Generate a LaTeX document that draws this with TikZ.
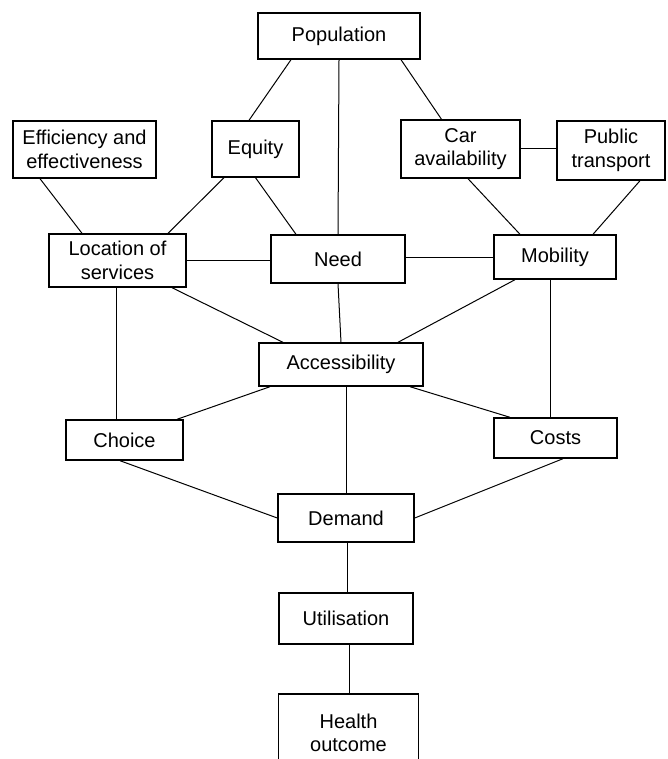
\documentclass[tikz,border=0pt]{standalone}
\usepackage{fontspec}
\setmainfont{Liberation Sans}
\begin{document}
\begin{tikzpicture}[x=1pt, y=-1pt,
  box/.style={draw, line width=1.4pt, inner sep=0pt, align=center, font=\fontsize{20}{23.5}\selectfont},
  link/.style={line width=1pt}]
\useasboundingbox (0,0) rectangle (667,759);
\clip (0,0) rectangle (667,759);

% Top rows
\node[box, minimum width=162pt, minimum height=46pt] (pop) at (339,36) {Population};
\node[box, minimum width=143pt, minimum height=57pt] (eff) at (84.5,149.5) {Efficiency and\\effectiveness};
\node[box, minimum width=87pt, minimum height=56pt] (equ) at (255.5,149) {Equity};
\node[box, minimum width=119pt, minimum height=58pt] (car) at (460.5,149) {Car\\availability};
\node[box, minimum width=108pt, minimum height=59pt] (pub) at (611,150.5) {Public\\transport};

% Middle rows
\node[box, minimum width=137pt, minimum height=53pt] (loc) at (117.5,260.5) {Location of\\services};
\node[box, minimum width=134pt, minimum height=48pt] (need) at (338,259) {Need};
\node[box, minimum width=122pt, minimum height=44pt] (mob) at (555,257) {Mobility};
\node[box, minimum width=164pt, minimum height=43pt] (acc) at (341,364.5) {Accessibility};
\node[box, minimum width=117pt, minimum height=40pt] (cho) at (124.5,440) {Choice};
\node[box, minimum width=123pt, minimum height=40pt] (cos) at (555.5,438) {Costs};

% Bottom column
\node[box, minimum width=136pt, minimum height=48pt] (dem) at (346,518) {Demand};
\node[box, minimum width=134pt, minimum height=51pt] (uti) at (346,618.5) {Utilisation};
\node[box, minimum width=140pt, minimum height=78pt] (hea) at (348.5,733) {Health\\outcome};

% Links
\draw[link] ([xshift=-48pt]pop.south) -- ([xshift=-6.5pt]equ.north);
\draw[link] (pop.south) -- (need.north);
\draw[link] ([xshift=62pt]pop.south) -- ([xshift=-19pt]car.north);
\draw[link] ([xshift=-44.5pt]eff.south) -- ([xshift=-35.5pt]loc.north);
\draw[link] ([xshift=-31.5pt]equ.south) -- ([xshift=50.5pt]loc.north);
\draw[link] (equ.south) -- ([xshift=-42pt]need.north);
\draw[link] (car.east) -- (car.east -| pub.west);
\draw[link] ([xshift=7.5pt]car.south) -- ([xshift=-35pt]mob.north);
\draw[link] ([xshift=29pt]pub.south) -- ([xshift=38pt]mob.north);
\draw[link] (loc.east) -- (loc.east -| need.west);
\draw[link] (mob.west -| need.east) -- (mob.west);
\draw[link] ([xshift=54.5pt]loc.south) -- ([xshift=-58pt]acc.north);
\draw[link] (need.south) -- (acc.north);
\draw[link] ([xshift=-40pt]mob.south) -- ([xshift=57pt]acc.north);
\draw[link] ([xshift=-1.5pt]loc.south) -- ([xshift=-1.5pt]loc.south |- cho.north);
\draw[link] ([xshift=-4.5pt]mob.south) -- ([xshift=-4.5pt]mob.south |- cos.north);
\draw[link] ([xshift=-71pt]acc.south) -- ([xshift=52.5pt]cho.north);
\draw[link] ([xshift=69pt]acc.south) -- ([xshift=-45.5pt]cos.north);
\draw[link] (dem.north |- acc.south) -- (dem.north);
\draw[link] ([xshift=-4.5pt]cho.south) -- (dem.west);
\draw[link] ([xshift=7.5pt]cos.south) -- (dem.east);
\draw[link] ([xshift=1pt]dem.south) -- ([xshift=1pt]dem.south |- uti.north);
\draw[link] ([xshift=3pt]uti.south) -- ([xshift=3pt]uti.south |- hea.north);
\end{tikzpicture}
\end{document}
